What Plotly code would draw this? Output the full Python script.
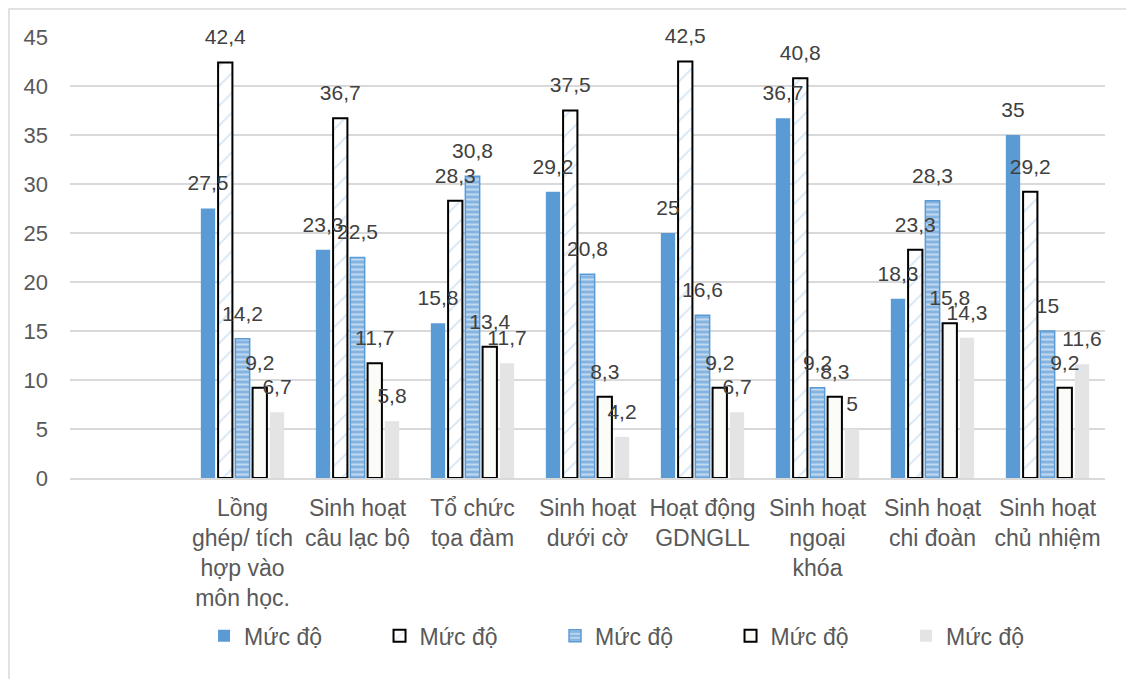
import plotly.graph_objects as go

categories = [" ", "Lồng<br>ghép/ tích<br>hợp vào<br>môn học.", "Sinh hoạt<br>câu lạc bộ", "Tổ chức<br>tọa đàm",
              "Sinh hoạt<br>dưới cờ", "Hoạt động<br>GDNGLL", "Sinh hoạt<br>ngoại<br>khóa",
              "Sinh hoạt<br>chi đoàn", "Sinh hoạt<br>chủ nhiệm"]
series_names = ["Mức độ", "Mức độ", "Mức độ", "Mức độ", "Mức độ"]
s1 = [None, 27.5, 23.3, 15.8, 29.2, 25, 36.7, 18.3, 35]
s2 = [None, 42.4, 36.7, 28.3, 37.5, 42.5, 40.8, 23.3, 29.2]
s3 = [None, 14.2, 22.5, 30.8, 20.8, 16.6, 9.2, 28.3, 15]
s4 = [None, 9.2, 11.7, 13.4, 8.3, 9.2, 8.3, 15.8, 9.2]
s5 = [None, 6.7, 5.8, 11.7, 4.2, 6.7, 5, 14.3, 11.6]
y_ticks = [0, 5, 10, 15, 20, 25, 30, 35, 40, 45]

FONT = "Liberation Sans, Arial"
styles = [
    dict(color="#5B9BD5", line=dict(width=0)),
    dict(color="white", line=dict(color="black", width=2),
         pattern=dict(shape="/", fgcolor="#A9CBEA", bgcolor="white", size=14, solidity=0.12)),
    dict(color="#85B4E1", line=dict(color="#5B9BD5", width=1.5),
         pattern=dict(shape="-", fgcolor="white", bgcolor="#85B4E1", size=5, solidity=0.4)),
    dict(color="#FBFBF8", line=dict(color="black", width=2)),
    dict(color="#E4E4E4", line=dict(width=0)),
]

fig = go.Figure()
all_series = [s1, s2, s3, s4, s5]
for name, vals, st in zip(series_names, all_series, styles):
    fig.add_trace(go.Bar(x=categories, y=vals, name=name, marker=st, hoverinfo="skip"))

# data labels drawn above all bars, grouped to align with the bars
for vals in all_series:
    fig.add_trace(go.Scatter(
        x=categories, y=vals, mode="markers+text", showlegend=False,
        marker=dict(size=19, opacity=0), texttemplate="%{y}", textposition="top center",
        textfont=dict(family=FONT, size=21, color="#404040"), cliponaxis=False,
        hoverinfo="skip",
    ))

fig.update_layout(
    width=1126, height=671,
    paper_bgcolor="white", plot_bgcolor="white",
    margin=dict(l=62, r=29, t=29, b=201),
    barmode="group", bargap=0.25, bargroupgap=0.17,
    scattermode="group", scattergap=0.25,
    separators=", ",
    font=dict(family=FONT, color="#595959"),
    showlegend=True,
    legend=dict(orientation="h", x=0.1295, xanchor="left", y=-0.358, yanchor="middle",
                entrywidth=130.5, entrywidthmode="pixels",
                font=dict(family=FONT, size=23, color="#595959"),
                traceorder="normal"),
    shapes=[dict(type="rect", xref="paper", yref="paper",
                 x0=-0.0590, x1=1.0251, y0=-0.48, y1=1.0635,
                 line=dict(color="#D9D9D9", width=1.5), fillcolor="rgba(0,0,0,0)", layer="below")],
)
fig.update_xaxes(showgrid=False, showline=True, linecolor="#D9D9D9", linewidth=1.5,
                 ticks="", tickfont=dict(family=FONT, size=23, color="#595959"), tickangle=0,
                 ticklabelstandoff=9)
fig.update_yaxes(range=[0, 45], tickvals=y_ticks, showgrid=True, gridcolor="#D9D9D9", gridwidth=1.5,
                 zeroline=False, showline=False, ticks="",
                 tickfont=dict(family=FONT, size=22, color="#595959"), ticklabelstandoff=21)

fig.write_html("out.html")
